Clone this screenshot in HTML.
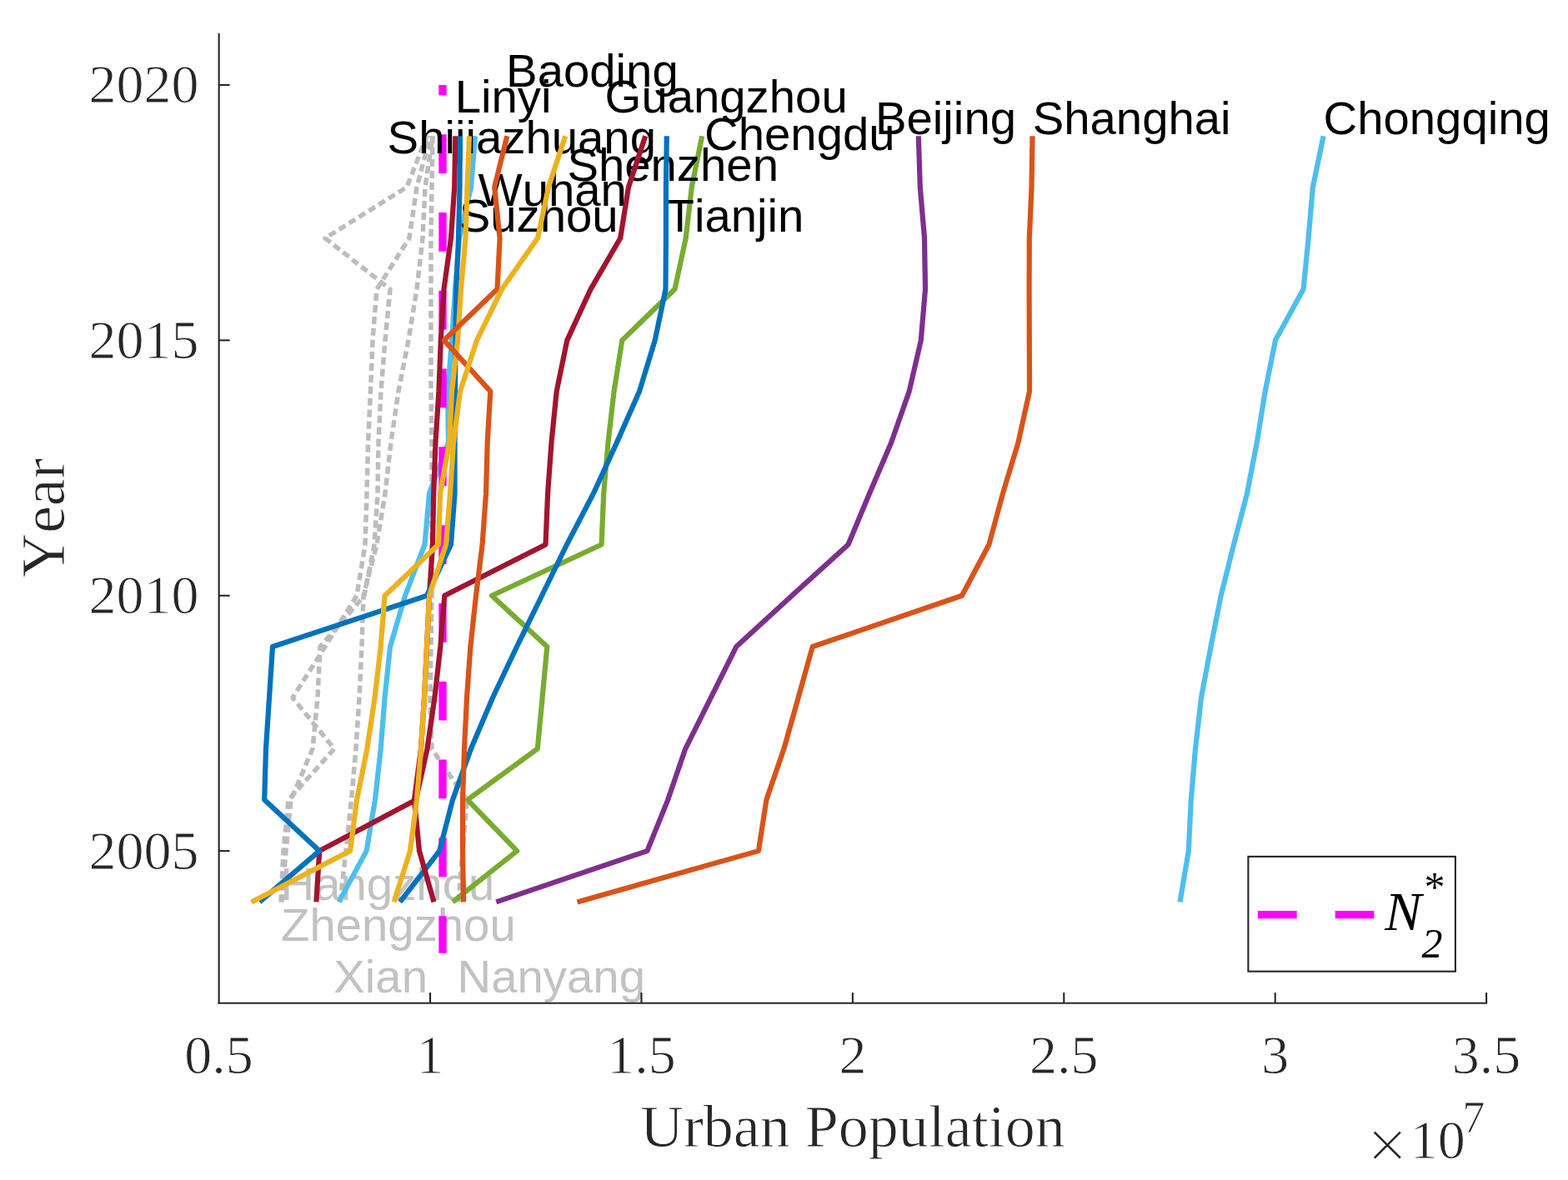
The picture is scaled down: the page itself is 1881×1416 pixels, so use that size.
<!DOCTYPE html>
<html><head><meta charset="utf-8"><title>Urban Population</title>
<style>
html,body{margin:0;padding:0;background:#fff;}
body{width:1881px;height:1416px;overflow:hidden;font-kerning:none;}
svg{display:block;font-kerning:none;}
text{font-kerning:none;}
.tk{font-family:"Liberation Serif","Times New Roman",serif;font-size:66px;fill:#262626;stroke:#fff;stroke-width:0.9px;}
.lb{font-family:"Liberation Serif","Times New Roman",serif;font-size:72px;fill:#262626;stroke:#fff;stroke-width:0.9px;}
.city{font-family:"Liberation Sans",Arial,Helvetica,sans-serif;font-size:56.3px;}
.lg{font-family:"Liberation Serif","Times New Roman",serif;fill:#000;}
</style></head>
<body>
<svg width="1881" height="1416" viewBox="0 0 1881 1416">
<rect width="1881" height="1416" fill="#fff"/>
<g id="data">
<g class="city" fill="#C2C2C2"><text x="336.6" y="1080.2">Hangzhou</text><text x="337.0" y="1128.8">Zhengzhou</text><text x="400.3" y="1190.8">Xian</text><text x="548.6" y="1190.8">Nanyang</text></g>
<polyline points="338.0,1082.40 343.0,1021.12 349.0,959.85 375.0,898.57 381.0,837.29 384.0,776.02 437.0,714.74 449.0,653.46 453.0,592.19 454.0,530.91 457.0,469.63 462.0,408.36 468.0,347.08 390.0,285.80 488.0,224.52 512.0,163.25" fill="none" stroke="#BCBCBC" stroke-width="5.5" stroke-dasharray="9 5" stroke-linejoin="round"/>
<polyline points="337.0,1082.40 340.0,1021.12 346.0,959.85 401.0,898.57 351.0,837.29 390.0,776.02 428.0,714.74 438.0,653.46 440.0,592.19 441.6,530.91 444.5,469.63 447.0,408.36 452.0,347.08 491.0,285.80 500.0,224.52 516.0,163.25" fill="none" stroke="#BCBCBC" stroke-width="5.5" stroke-dasharray="9 5" stroke-linejoin="round"/>
<polyline points="408.0,1082.40 415.0,1021.12 421.5,959.85 427.0,898.57 431.0,837.29 434.0,776.02 436.0,714.74 452.0,653.46 462.0,592.19 469.0,530.91 478.0,469.63 490.0,408.36 500.0,347.08 507.0,285.80 510.0,224.52 519.0,163.25" fill="none" stroke="#BCBCBC" stroke-width="5.5" stroke-dasharray="9 5" stroke-linejoin="round"/>
<polyline points="550.0,1082.40 555.0,1021.12 560.0,959.85 518.0,898.57 516.0,837.29 517.0,776.02 518.0,714.74 518.0,653.46 518.0,592.19 518.0,530.91 517.0,469.63 517.0,408.36 517.0,347.08 517.0,285.80 518.0,224.52 519.0,163.25" fill="none" stroke="#BCBCBC" stroke-width="5.5" stroke-dasharray="9 5" stroke-linejoin="round"/>
<polyline points="406.5,1082.40 439.6,1021.12 450.0,959.85 456.7,898.57 461.6,837.29 468.0,776.02 486.0,714.74 509.5,653.46 515.0,592.19 538.0,530.91 537.0,469.63 542.0,408.36 546.0,347.08 551.0,285.80 565.0,224.52 570.0,163.25" fill="none" stroke="#4DBEEE" stroke-width="6.2" stroke-linejoin="round" stroke-linecap="butt"/>
<line x1="531.0" y1="101.97" x2="531.0" y2="1143.68" stroke="#FF00FF" stroke-width="9.3" stroke-dasharray="46.8 47" stroke-dashoffset="34.6"/>
<polyline points="543.0,1082.40 620.2,1021.12 560.9,959.85 644.8,898.57 650.6,837.29 656.3,776.02 590.0,714.74 721.6,653.46 724.2,592.19 729.5,530.91 736.6,469.63 746.3,408.36 809.5,347.08 822.7,285.80 829.8,224.52 842.2,163.25" fill="none" stroke="#77AC30" stroke-width="6.2" stroke-linejoin="round" stroke-linecap="butt"/>
<g class="city" fill="#000"><text x="607.1" y="103.6">Baoding</text><text x="545.7" y="134.7">Linyi</text><text x="725.6" y="134.9">Guangzhou</text><text x="1050.0" y="160.6">Beijing</text><text x="1238.7" y="160.8">Shanghai</text><text x="1587.5" y="160.9">Chongqing</text><text x="464.6" y="183.8">Shijiazhuang</text><text x="845.1" y="179.7">Chengdu</text><text x="680.4" y="216.8">Shenzhen</text><text x="573.5" y="247.0">Wuhan</text><text x="550.7" y="277.6">Suzhou</text><text x="798.5" y="277.9">Tianjin</text></g>
<polyline points="1415.5,1082.40 1425.8,1021.12 1428.8,959.85 1434.0,898.57 1441.0,837.29 1452.5,776.02 1464.7,714.74 1480.0,653.46 1496.0,592.19 1507.8,530.91 1517.7,469.63 1530.0,408.36 1563.6,347.08 1569.6,285.80 1574.9,224.52 1587.6,163.25" fill="none" stroke="#4DBEEE" stroke-width="6.2" stroke-linejoin="round" stroke-linecap="butt"/>
<polyline points="692.5,1082.40 909.9,1021.12 919.4,959.85 940.4,898.57 957.6,837.29 974.7,776.02 1154.0,714.74 1186.4,653.46 1203.0,592.19 1221.5,530.91 1235.0,469.63 1234.8,408.36 1234.6,347.08 1234.8,285.80 1237.5,224.52 1238.5,163.25" fill="none" stroke="#D95319" stroke-width="6.2" stroke-linejoin="round" stroke-linecap="butt"/>
<polyline points="595.3,1082.40 776.4,1021.12 801.2,959.85 822.2,898.57 852.7,837.29 883.2,776.02 950.0,714.74 1017.5,653.46 1043.0,592.19 1069.2,530.91 1090.7,469.63 1104.8,408.36 1110.0,347.08 1109.0,285.80 1103.8,224.52 1101.8,163.25" fill="none" stroke="#7E2F8E" stroke-width="6.2" stroke-linejoin="round" stroke-linecap="butt"/>
<polyline points="479.8,1082.40 527.2,1021.12 543.0,959.85 565.0,898.57 591.0,837.29 620.0,776.02 650.0,714.74 680.0,653.46 711.9,592.19 740.0,530.91 767.0,469.63 785.7,408.36 798.5,347.08 798.9,285.80 798.9,224.52 799.8,163.25" fill="none" stroke="#0072BD" stroke-width="6.2" stroke-linejoin="round" stroke-linecap="butt"/>
<polyline points="379.4,1082.40 383.2,1021.12 499.0,959.85 512.5,898.57 521.4,837.29 528.3,776.02 533.3,714.74 654.5,653.46 657.1,592.19 661.5,530.91 667.7,469.63 680.3,408.36 708.5,347.08 744.2,285.80 754.0,224.52 774.2,163.25" fill="none" stroke="#A2142F" stroke-width="6.2" stroke-linejoin="round" stroke-linecap="butt"/>
<polyline points="520.5,1082.40 503.0,1021.12 497.0,959.85 505.0,898.57 509.0,837.29 512.0,776.02 515.0,714.74 519.0,653.46 520.2,592.19 522.5,530.91 526.4,469.63 528.8,408.36 532.5,347.08 541.0,285.80 545.2,224.52 546.3,163.25" fill="none" stroke="#A2142F" stroke-width="6.2" stroke-linejoin="round" stroke-linecap="butt"/>
<polyline points="311.4,1082.40 383.2,1021.12 317.2,959.85 319.0,898.57 323.0,837.29 327.0,776.02 512.0,714.74 541.0,653.46 545.5,592.19 545.5,530.91 546.0,469.63 546.5,408.36 547.3,347.08 550.0,285.80 551.5,224.52 552.0,163.25" fill="none" stroke="#0072BD" stroke-width="6.2" stroke-linejoin="round" stroke-linecap="butt"/>
<polyline points="301.7,1082.40 420.1,1021.12 428.0,959.85 440.4,898.57 449.6,837.29 456.7,776.02 461.6,714.74 526.0,653.46 528.0,592.19 539.0,530.91 542.0,469.63 549.0,408.36 553.0,347.08 558.5,285.80 560.5,224.52 563.0,163.25" fill="none" stroke="#EDB120" stroke-width="6.2" stroke-linejoin="round" stroke-linecap="butt"/>
<polyline points="556.0,1082.40 555.0,1021.12 555.0,959.85 557.0,898.57 560.0,837.29 564.4,776.02 571.0,714.74 578.6,653.46 583.0,592.19 584.7,530.91 588.3,469.63 532.7,408.36 596.5,347.08 599.6,285.80 593.2,224.52 608.3,163.25" fill="none" stroke="#D95319" stroke-width="6.2" stroke-linejoin="round" stroke-linecap="butt"/>
<polyline points="472.6,1082.40 492.0,1021.12 500.0,959.85 505.0,898.57 509.0,837.29 512.0,776.02 515.0,714.74 535.0,653.46 540.0,592.19 544.0,530.91 552.0,469.63 572.0,408.36 602.0,347.08 645.0,285.80 658.0,224.52 678.3,163.25" fill="none" stroke="#EDB120" stroke-width="6.2" stroke-linejoin="round" stroke-linecap="butt"/>
</g>
<g id="axes">
<line x1="262.65" y1="40.1" x2="262.65" y2="1204.7" stroke="#262626" stroke-width="2.1"/>
<line x1="261.65" y1="1203.7" x2="1784.1" y2="1203.7" stroke="#262626" stroke-width="2.1"/>
<line x1="262.65" y1="1021.12" x2="275.65" y2="1021.12" stroke="#262626" stroke-width="2.1"/>
<line x1="262.65" y1="714.74" x2="275.65" y2="714.74" stroke="#262626" stroke-width="2.1"/>
<line x1="262.65" y1="408.36" x2="275.65" y2="408.36" stroke="#262626" stroke-width="2.1"/>
<line x1="262.65" y1="101.97" x2="275.65" y2="101.97" stroke="#262626" stroke-width="2.1"/>
<line x1="516.06" y1="1203.7" x2="516.06" y2="1191.1000000000001" stroke="#262626" stroke-width="2.1"/>
<line x1="769.47" y1="1203.7" x2="769.47" y2="1191.1000000000001" stroke="#262626" stroke-width="2.1"/>
<line x1="1022.88" y1="1203.7" x2="1022.88" y2="1191.1000000000001" stroke="#262626" stroke-width="2.1"/>
<line x1="1276.29" y1="1203.7" x2="1276.29" y2="1191.1000000000001" stroke="#262626" stroke-width="2.1"/>
<line x1="1529.70" y1="1203.7" x2="1529.70" y2="1191.1000000000001" stroke="#262626" stroke-width="2.1"/>
<line x1="1783.11" y1="1203.7" x2="1783.11" y2="1191.1000000000001" stroke="#262626" stroke-width="2.1"/>
</g>
<g class="tk">
<text x="238.6" y="1042.5" text-anchor="end">2005</text>
<text x="238.6" y="736.1" text-anchor="end">2010</text>
<text x="238.6" y="429.8" text-anchor="end">2015</text>
<text x="238.6" y="123.4" text-anchor="end">2020</text>
<text x="262.6" y="1288" text-anchor="middle">0.5</text>
<text x="516.1" y="1288" text-anchor="middle">1</text>
<text x="769.5" y="1288" text-anchor="middle">1.5</text>
<text x="1022.9" y="1288" text-anchor="middle">2</text>
<text x="1276.3" y="1288" text-anchor="middle">2.5</text>
<text x="1529.7" y="1288" text-anchor="middle">3</text>
<text x="1783.1" y="1288" text-anchor="middle">3.5</text>
</g>
<g class="lb">
<text x="767.9" y="1376.2">Urban Population</text>
<text transform="translate(76.5,692.9) rotate(-90)" font-size="73.5">Year</text>
</g>
<g class="tk">
<text x="1639.8" y="1402.5" font-size="87" stroke="#fff" stroke-width="1.7">&#215;</text>
<text x="1691.8" y="1389.5">10</text>
<text x="1754.3" y="1358.8" font-size="54.5">7</text>
</g>
<g id="legend">
<rect x="1497.4" y="1027.9" width="248.5" height="137.8" fill="#fff" stroke="#262626" stroke-width="2.1"/>
<line x1="1508.9" y1="1097.6" x2="1648.4" y2="1097.6" stroke="#FF00FF" stroke-width="9.3" stroke-dasharray="46.8 46"/>
<g class="lg">
<text x="1661.2" y="1115.5" font-style="italic" font-size="66">N</text>
<text x="1705.4" y="1148.7" font-style="italic" font-size="50">2</text>
<text x="1708.4" y="1081.3" font-size="50">*</text>
</g>
</g>
</svg>
</body></html>
